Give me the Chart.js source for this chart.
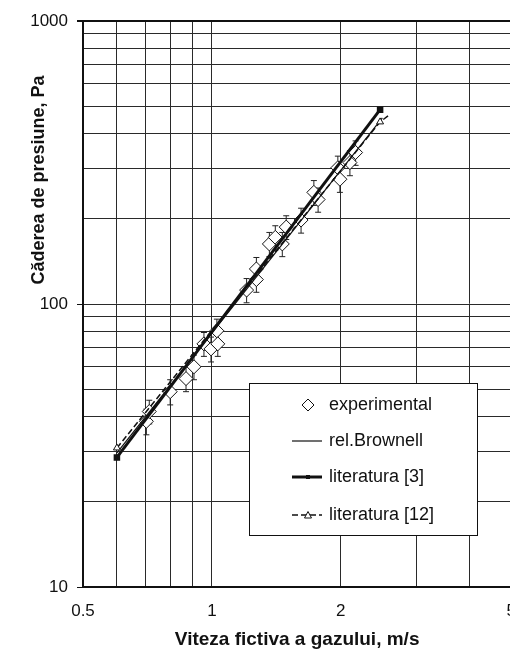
<!DOCTYPE html>
<html>
<head>
<meta charset="utf-8">
<script src="https://cdn.jsdelivr.net/npm/chart.js@4/dist/chart.umd.min.js"></script>
<style>
  html, body { margin: 0; padding: 0; background: #fff; overflow: hidden; }
  canvas { display: block; }
</style>
</head>
<body>
<canvas id="chart" width="530" height="651" style="width:530px;height:651px"></canvas>
<script>
const expX = [0.703, 0.714, 0.799, 0.870, 0.908, 0.958, 0.995, 1.027, 1.032, 1.205, 1.27, 1.27,
              1.362, 1.406, 1.46, 1.491, 1.615, 1.73, 1.77, 1.968, 1.99, 2.10, 2.165];
const expY = [38.5, 41.7, 49, 54.5, 60, 72.3, 69.4, 80.4, 72.3, 112, 122, 133,
              163, 172, 163, 187, 198, 248, 234, 303, 276, 316, 343];
const expErr = [4, 4, 5, 5.5, 6, 7, 7, 8, 7, 11, 12, 13,
                16, 17, 16, 18, 20, 25, 23, 30, 28, 32, 34];

// model curves
const brownellX = [0.6, 2.5];
const brownellY = [29.8, 455];
const lit3X = [0.6, 2.47];
const lit3Y = [28.7, 486];
const lit12X = [0.6, 2.47, 2.6];
const lit12Y = [31, 440, 467];

// axes
const xGrid = [0.5, 0.6, 0.7, 0.8, 0.9, 1, 2, 3, 4, 5];
const xLabels = [0.5, 1, 2, 5];
const yGrid = [10, 20, 30, 40, 50, 60, 70, 80, 90, 100, 200, 300, 400, 500, 600, 700, 800, 900, 1000];
const yLabels = [10, 100, 1000];

const FONT = '"Liberation Sans", Arial, sans-serif';
const INK = '#111';
const GRID = '#2a2a2a';

const pts = (xs, ys) => xs.map((x, i) => ({ x, y: ys[i] }));

const errorBars = {
    id: 'errorBars',
    beforeDatasetsDraw(chart) {
        const { ctx, scales: { x, y } } = chart;
        ctx.save();
        ctx.strokeStyle = '#222';
        ctx.lineWidth = 1;
        expX.forEach((v, i) => {
            const px = x.getPixelForValue(v);
            const top = y.getPixelForValue(expY[i] + expErr[i]);
            const bot = y.getPixelForValue(expY[i] - expErr[i]);
            ctx.beginPath();
            ctx.moveTo(px, top); ctx.lineTo(px, bot);
            ctx.moveTo(px - 3, top); ctx.lineTo(px + 3, top);
            ctx.moveTo(px - 3, bot); ctx.lineTo(px + 3, bot);
            ctx.stroke();
        });
        ctx.restore();
    }
};

const yTitle = {
    id: 'yTitle',
    afterDraw(chart) {
        const ctx = chart.ctx;
        ctx.save();
        ctx.translate(39, 180);
        ctx.rotate(-Math.PI / 2);
        ctx.font = 'bold 18px ' + FONT;
        ctx.fillStyle = INK;
        ctx.textAlign = 'center';
        ctx.textBaseline = 'middle';
        ctx.fillText('Căderea de presiune, Pa', 0, 0);
        ctx.restore();
    }
};

// legend box drawn inside the plot, lower right
const legendBox = {
    id: 'legendBox',
    afterDraw(chart) {
        const ctx = chart.ctx;
        const sets = chart.data.datasets;
        ctx.save();
        ctx.fillStyle = '#fff';
        ctx.fillRect(249.5, 383.5, 228, 152);
        ctx.strokeStyle = INK;
        ctx.lineWidth = 1;
        ctx.strokeRect(249.5, 383.5, 228, 152);

        const rows = [405, 441, 477, 515];
        const x0 = 292, x1 = 322, mx = 308;
        // experimental: diamond
        ctx.beginPath();
        ctx.moveTo(mx - 6, rows[0]); ctx.lineTo(mx, rows[0] - 6);
        ctx.lineTo(mx + 6, rows[0]); ctx.lineTo(mx, rows[0] + 6);
        ctx.closePath();
        ctx.fillStyle = '#fff'; ctx.fill(); ctx.stroke();
        // rel.Brownell: thin line
        ctx.lineWidth = 1.2;
        ctx.beginPath(); ctx.moveTo(x0, rows[1]); ctx.lineTo(x1, rows[1]); ctx.stroke();
        // literatura [3]: thick line with small square
        ctx.lineWidth = 3;
        ctx.beginPath(); ctx.moveTo(x0, rows[2]); ctx.lineTo(x1, rows[2]); ctx.stroke();
        ctx.fillStyle = INK; ctx.fillRect(mx - 2, rows[2] - 2, 4, 4);
        // literatura [12]: dashed line with open triangle
        ctx.lineWidth = 1.5;
        ctx.setLineDash([6, 3]);
        ctx.beginPath(); ctx.moveTo(x0, rows[3]); ctx.lineTo(x1, rows[3]); ctx.stroke();
        ctx.setLineDash([]);
        ctx.lineWidth = 1;
        ctx.beginPath();
        ctx.moveTo(mx - 3.5, rows[3] + 3); ctx.lineTo(mx, rows[3] - 3.5); ctx.lineTo(mx + 3.5, rows[3] + 3);
        ctx.closePath();
        ctx.fillStyle = '#fff'; ctx.fill(); ctx.stroke();

        ctx.font = '18px ' + FONT;
        ctx.fillStyle = INK;
        ctx.textAlign = 'left';
        ctx.textBaseline = 'middle';
        sets.forEach((d, i) => ctx.fillText(d.label, 329, rows[i]));
        ctx.restore();
    }
};

new Chart(document.getElementById('chart'), {
    type: 'scatter',
    data: {
        datasets: [
            {
                label: 'experimental',
                data: pts(expX, expY),
                pointStyle: 'rectRot',
                pointRadius: 7,
                backgroundColor: '#fff',
                borderColor: INK,
                borderWidth: 1,
                order: 4
            },
            {
                label: 'rel.Brownell',
                data: pts(brownellX, brownellY),
                showLine: true,
                borderColor: INK,
                borderWidth: 1.2,
                pointRadius: 0,
                order: 3
            },
            {
                label: 'literatura [3]',
                data: pts(lit3X, lit3Y),
                showLine: true,
                borderColor: INK,
                borderWidth: 3,
                pointStyle: 'rect',
                pointRadius: 2.5,
                backgroundColor: INK,
                order: 2
            },
            {
                label: 'literatura [12]',
                data: pts(lit12X, lit12Y),
                showLine: true,
                borderColor: INK,
                borderWidth: 1.5,
                borderDash: [6, 3],
                pointStyle: 'triangle',
                pointRadius: [4, 4, 0],
                pointBorderWidth: 1,
                backgroundColor: '#fff',
                order: 1
            }
        ]
    },
    options: {
        responsive: false,
        animation: false,
        events: [],
        layout: { padding: { left: 0, right: 15, top: 21, bottom: 0 } },
        plugins: { legend: { display: false }, tooltip: { enabled: false } },
        scales: {
            x: {
                type: 'logarithmic',
                min: 0.5,
                max: 5,
                afterBuildTicks: s => { s.ticks = xGrid.map(v => ({ value: v })); },
                afterFit: s => { s.height = 64; },
                ticks: {
                    callback: v => xLabels.includes(v) ? String(v) : '',
                    autoSkip: false,
                    maxRotation: 0,
                    padding: 14,
                    color: INK,
                    font: { family: FONT, size: 17 }
                },
                grid: { color: GRID, lineWidth: 1, drawTicks: false },
                border: { color: INK, width: 2 },
                title: {
                    display: true,
                    text: 'Viteza fictiva a gazului, m/s',
                    color: INK,
                    font: { family: FONT, size: 19, weight: 'bold' },
                    padding: 0
                }
            },
            y: {
                type: 'logarithmic',
                min: 10,
                max: 1000,
                afterBuildTicks: s => { s.ticks = yGrid.map(v => ({ value: v })); },
                afterFit: s => { s.width = 83; },
                ticks: {
                    callback: v => yLabels.includes(v) ? String(v) : '',
                    autoSkip: false,
                    padding: 9,
                    color: INK,
                    font: { family: FONT, size: 17 }
                },
                grid: {
                    color: c => c.tick && c.tick.value === 1000 ? INK : GRID,
                    lineWidth: c => c.tick && c.tick.value === 1000 ? 2 : 1,
                    tickLength: 6,
                    tickColor: c => c.tick && yLabels.includes(c.tick.value) ? INK : 'rgba(0,0,0,0)'
                },
                border: { color: INK, width: 2 }
            }
        }
    },
    plugins: [errorBars, yTitle, legendBox]
});
</script>
</body>
</html>
